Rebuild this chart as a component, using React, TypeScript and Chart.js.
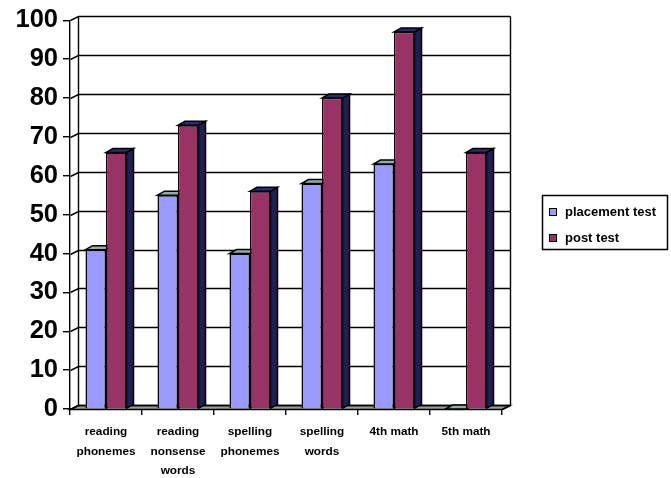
import React, { useEffect, useRef } from 'react';
import { Chart, registerables } from 'chart.js';
Chart.register(...registerables);

const categories: (string | string[])[] = [
  ['reading', 'phonemes'],
  ['reading', 'nonsense', 'words'],
  ['spelling', 'phonemes'],
  ['spelling', 'words'],
  '4th math',
  '5th math',
];
const placementTest = [41, 55, 40, 58, 63, 0];
const postTest = [66, 73, 56, 80, 97, 66];
const seriesLabels = ['placement test', 'post test'];
const yMin = 0;
const yMax = 100;
const yStep = 10;

const FONT = "'Liberation Sans', Arial, sans-serif";
const frontColors = ['#9999FF', '#993366'];
const topColors = ['#8FAEAA', '#2B2B72'];
const sideColors = ['#7A9894', '#1F1F57'];
const WALL_DX = 8;
const WALL_DY = -4;
const BAR_DX = 7;
const BAR_DY = -4;

const threeD = {
  id: 'threeD',
  beforeDatasetsDraw(chart: any) {
    const { ctx, chartArea: a, scales } = chart;
    const y = scales.y;
    ctx.save();
    ctx.lineWidth = 1.4;
    ctx.strokeStyle = '#000';
    // floor
    const yb = Math.round(y.getPixelForValue(yMin)) + 0.5;
    ctx.beginPath();
    ctx.moveTo(a.left, yb);
    ctx.lineTo(a.right, yb);
    ctx.lineTo(a.right + WALL_DX, yb + WALL_DY);
    ctx.lineTo(a.left + WALL_DX, yb + WALL_DY);
    ctx.closePath();
    ctx.fillStyle = '#9a9a9a';
    ctx.fill();
    ctx.stroke();
    // back wall gridlines + left wall diagonals
    for (let v = yMin; v <= yMax; v += yStep) {
      const yf = Math.round(y.getPixelForValue(v)) + 0.5;
      ctx.beginPath();
      ctx.moveTo(a.left + 0.5, yf);
      ctx.lineTo(a.left + WALL_DX + 0.5, yf + WALL_DY);
      ctx.lineTo(a.right + WALL_DX + 0.5, yf + WALL_DY);
      ctx.stroke();
    }
    const yt = Math.round(y.getPixelForValue(yMax)) + 0.5;
    ctx.beginPath();
    ctx.moveTo(a.left + WALL_DX + 0.5, yt + WALL_DY);
    ctx.lineTo(a.left + WALL_DX + 0.5, yb + WALL_DY);
    ctx.moveTo(a.right + WALL_DX + 0.5, yt + WALL_DY);
    ctx.lineTo(a.right + WALL_DX + 0.5, yb + WALL_DY);
    ctx.moveTo(a.right + 0.5, yb);
    ctx.lineTo(a.right + WALL_DX + 0.5, yb + WALL_DY);
    ctx.stroke();
    // bar faces
    ctx.lineWidth = 1.5;
    chart.data.datasets.forEach((_: any, di: number) => {
      const meta = chart.getDatasetMeta(di);
      meta.data.forEach((el: any) => {
        const { x, y: yy, base, width } = el.getProps(['x', 'y', 'base', 'width'], true);
        const l = x - width / 2;
        const r = x + width / 2;
        // side
        ctx.beginPath();
        ctx.moveTo(r, yy);
        ctx.lineTo(r + BAR_DX, yy + BAR_DY);
        ctx.lineTo(r + BAR_DX, base + BAR_DY);
        ctx.lineTo(r, base);
        ctx.closePath();
        ctx.fillStyle = sideColors[di];
        ctx.fill();
        ctx.stroke();
        // top
        ctx.beginPath();
        ctx.moveTo(l, yy);
        ctx.lineTo(r, yy);
        ctx.lineTo(r + BAR_DX, yy + BAR_DY);
        ctx.lineTo(l + BAR_DX, yy + BAR_DY);
        ctx.closePath();
        ctx.fillStyle = topColors[di];
        ctx.fill();
        ctx.stroke();
      });
    });
    ctx.restore();
  },
  afterDraw(chart: any) {
    const { ctx, chartArea: a } = chart;
    ctx.save();
    const lx = a.right + 40;
    const ly = 195;
    const lw = 125;
    const lh = 54;
    ctx.strokeStyle = '#000';
    ctx.lineWidth = 1.5;
    ctx.strokeRect(lx + 0.5, ly + 0.5, lw, lh);
    ctx.font = `bold 13px ${FONT}`;
    ctx.textBaseline = 'middle';
    ctx.textAlign = 'left';
    chart.data.datasets.forEach((ds: any, i: number) => {
      const cy = ly + 17 + i * 26;
      ctx.fillStyle = ds.backgroundColor;
      ctx.fillRect(lx + 7, cy - 4, 8, 8);
      ctx.lineWidth = 1;
      ctx.strokeRect(lx + 7.5, cy - 3.5, 7, 7);
      ctx.fillStyle = '#000';
      ctx.fillText(ds.label, lx + 23, cy);
    });
    ctx.restore();
  },
};

export default function App() {
  const ref = useRef<HTMLCanvasElement>(null);
  useEffect(() => {
    if (!ref.current) return;
    const chart = new Chart(ref.current, {
      type: 'bar',
      data: {
        labels: categories,
        datasets: [
          { label: seriesLabels[0], data: placementTest, backgroundColor: frontColors[0], borderColor: '#000', borderWidth: 1.5, categoryPercentage: 0.57, barPercentage: 1 },
          { label: seriesLabels[1], data: postTest, backgroundColor: frontColors[1], borderColor: '#000', borderWidth: 1.5, categoryPercentage: 0.57, barPercentage: 1 },
        ],
      },
      options: {
        responsive: false,
        animation: false,
        layout: { padding: { top: 19, right: 169, bottom: 0, left: 0 } },
        plugins: { legend: { display: false }, tooltip: { enabled: false } },
        scales: {
          x: {
            ticks: { color: '#000', font: { family: FONT, size: 11.8, weight: 'bold', lineHeight: 1.66 }, padding: 7, maxRotation: 0, autoSkip: false },
            grid: { display: true, drawOnChartArea: false, tickLength: 6, color: '#000', lineWidth: 1.4, offset: true },
            border: { display: true, color: '#000', width: 1.4 },
            afterFit(s: any) { s.height = 69; },
          },
          y: {
            min: yMin,
            max: yMax,
            ticks: { stepSize: yStep, color: '#000', font: { family: FONT, size: 25.5, weight: 'bold' }, padding: 5 },
            grid: { display: true, drawOnChartArea: false, tickLength: 7, color: '#000', lineWidth: 1.4 },
            border: { display: true, color: '#000', width: 1.4 },
            afterFit(s: any) { s.width = 70; },
          },
        },
      },
      plugins: [threeD],
    } as any);
    return () => chart.destroy();
  }, []);
  return (
    <div style={{ position: 'absolute', left: 0, top: 0, width: 671, height: 478, background: '#fff' }}>
      <canvas ref={ref} width={671} height={478} style={{ display: 'block' }} />
    </div>
  );
}
